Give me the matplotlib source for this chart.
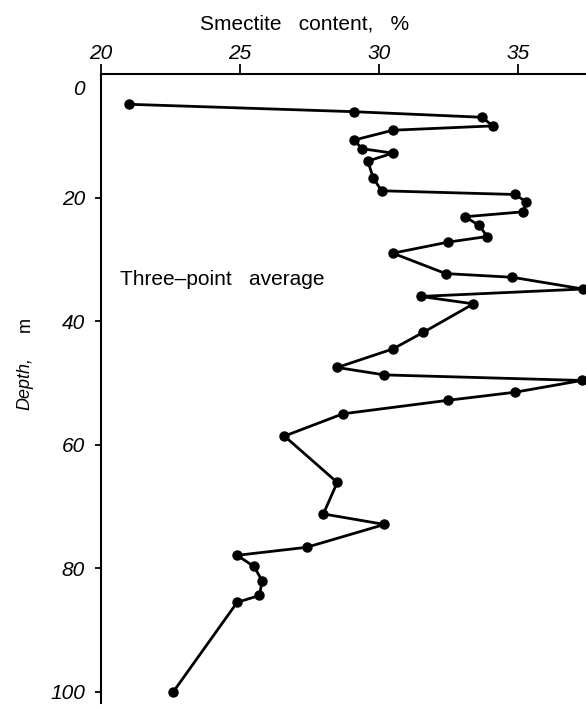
import matplotlib
matplotlib.use("Agg")
import matplotlib.pyplot as plt
import matplotlib.transforms as mtransforms

plt.rcParams["font.family"] = ["Liberation Sans", "DejaVu Sans"]

# smectite content (%) against depth (m), three-point average
smectite = [21.0, 29.1, 33.7, 34.1, 30.5, 29.1, 29.4, 30.5, 29.6, 29.8,
            30.1, 34.9, 35.3, 35.2, 33.1, 33.6, 33.9, 32.5, 30.5, 32.4,
            34.8, 37.35, 31.5, 33.4, 31.6, 30.5, 28.5, 30.2, 37.3, 34.9,
            32.5, 28.7, 26.6, 28.5, 28.0, 30.2, 27.4, 24.9, 25.5, 25.8,
            25.7, 24.9, 22.6]
depth = [4.9, 6.1, 7.0, 8.4, 9.1, 10.7, 12.1, 12.8, 14.1, 16.9,
         18.9, 19.5, 20.7, 22.3, 23.1, 24.5, 26.3, 27.2, 29.0, 32.3,
         32.9, 34.8, 36.0, 37.2, 41.8, 44.5, 47.5, 48.7, 49.6, 51.5,
         52.8, 55.0, 58.6, 66.1, 71.2, 72.9, 76.6, 77.9, 79.7, 82.0,
         84.4, 85.5, 100.0]

x_ticks = [20, 25, 30, 35]
y_ticks = [0, 20, 40, 60, 80, 100]

fig = plt.figure(figsize=(5.86, 7.08), dpi=100)
ax = fig.add_axes([101 / 586, 5 / 708, 1 - 101 / 586, (703 - 74) / 708])

ax.plot(smectite, depth, color="black", linewidth=2.0, marker="o",
        markersize=6.5, clip_on=False, zorder=3)

ax.set_xlim(20, 37.45)
ax.set_ylim(101.8, 0)
ax.xaxis.tick_top()
ax.set_xticks(x_ticks)
ax.set_yticks(y_ticks)
ax.set_xticklabels([str(v) for v in x_ticks], fontstyle="italic", fontsize=15)
ax.set_yticklabels([str(v) for v in y_ticks], fontstyle="italic", fontsize=15)
ax.tick_params(axis="x", direction="out", length=7, width=1.3, pad=1)
ax.tick_params(axis="y", direction="out", length=4.5, width=1.3, pad=7)
# the "0" label sits a little below the top edge in the original
lab0 = ax.get_yticklabels()[0]
lab0.set_transform(lab0.get_transform()
                   + mtransforms.ScaledTranslation(0, -10 / 72, fig.dpi_scale_trans))
ax.yaxis.get_major_ticks()[0].tick1line.set_visible(False)

ax.spines["right"].set_visible(False)
ax.spines["bottom"].set_visible(False)
for s in ("top", "left"):
    ax.spines[s].set_linewidth(1.5)

fig.text(305 / 586, 1 - 24 / 708, "Smectite   content,   %", fontsize=15,
         ha="center", va="center")
ax.text(20.68, 33.2, "Three\u2013point   average", fontsize=15,
        ha="left", va="center")
fig.text(25 / 586, 1 - 383 / 708, "Depth,", fontsize=13, fontstyle="italic",
         rotation=90, ha="center", va="center")
fig.text(25 / 586, 1 - 325 / 708, "m", fontsize=13,
         rotation=90, ha="center", va="center")

fig.savefig("out.png", dpi=100)
